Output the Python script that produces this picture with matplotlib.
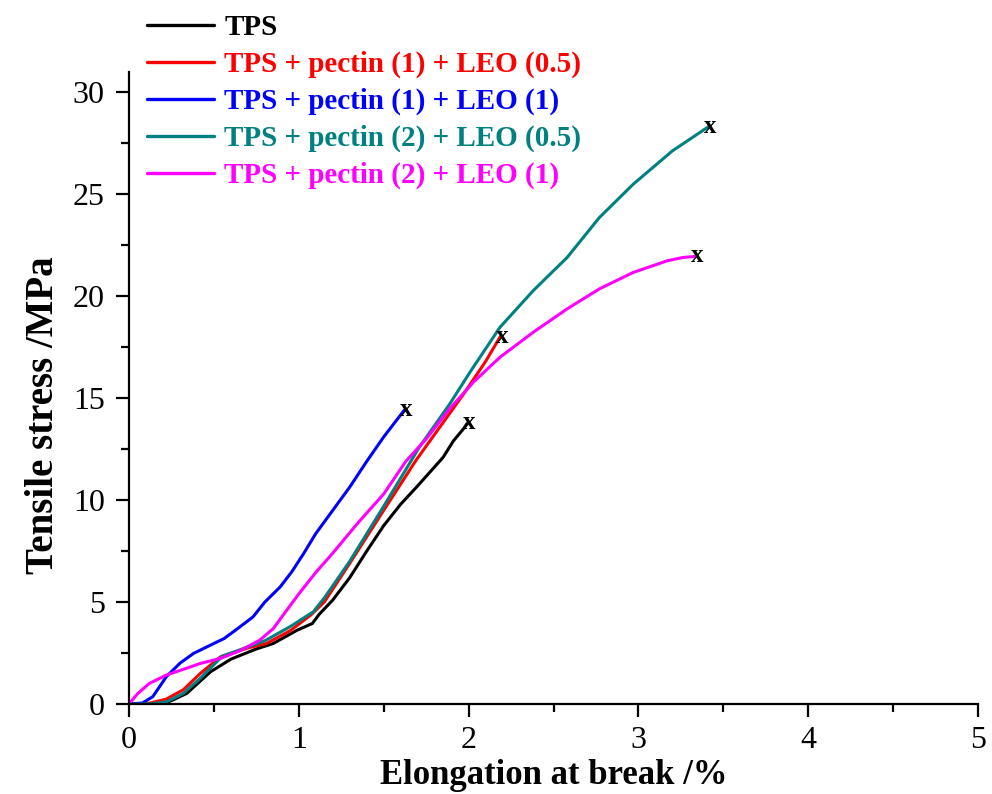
import matplotlib
matplotlib.use("Agg")
import matplotlib.pyplot as plt
from matplotlib.ticker import MultipleLocator

# ---- data ----
labels = ["TPS",
          "TPS + pectin (1) + LEO (0.5)",
          "TPS + pectin (1) + LEO (1)",
          "TPS + pectin (2) + LEO (0.5)",
          "TPS + pectin (2) + LEO (1)"]
colors = ["#000000", "#ff0000", "#0000ff", "#008080", "#ff00ff"]

tps_x = [0, 0.1, 0.22, 0.34, 0.48, 0.6, 0.75, 0.85, 0.99, 1.08, 1.12, 1.2, 1.3, 1.4, 1.5, 1.6, 1.7, 1.85, 1.91, 1.97, 1.99]
tps_y = [0, 0, 0.05, 0.52, 1.58, 2.2, 2.7, 2.97, 3.62, 3.95, 4.4, 5.1, 6.2, 7.5, 8.75, 9.8, 10.7, 12.1, 12.9, 13.5, 13.75]

p1l05_x = [0, 0.1, 0.22, 0.32, 0.42, 0.54, 0.7, 0.81, 0.95, 1.07, 1.15, 1.3, 1.5, 1.69, 1.97, 2.1, 2.185]
p1l05_y = [0, 0, 0.24, 0.7, 1.5, 2.32, 2.75, 2.97, 3.6, 4.36, 5.0, 6.9, 9.5, 11.95, 15.2, 16.8, 18.0]

p1l1_x = [0, 0.08, 0.14, 0.22, 0.3, 0.38, 0.5, 0.56, 0.64, 0.73, 0.8, 0.89, 0.96, 1.03, 1.1, 1.2, 1.3, 1.4, 1.5, 1.62]
p1l1_y = [0, 0.05, 0.36, 1.34, 2.0, 2.48, 2.97, 3.21, 3.7, 4.27, 5.0, 5.74, 6.5, 7.4, 8.36, 9.5, 10.64, 11.9, 13.1, 14.4]

p2l05_x = [0, 0.12, 0.22, 0.32, 0.42, 0.55, 0.7, 0.8, 0.95, 1.085, 1.15, 1.3, 1.5, 1.71, 1.89, 2.01, 2.185, 2.38, 2.58, 2.77, 2.97, 3.2, 3.41]
p2l05_y = [0, 0, 0.1, 0.52, 1.26, 2.35, 2.8, 3.1, 3.8, 4.52, 5.2, 7.0, 9.7, 12.6, 14.73, 16.3, 18.48, 20.27, 21.9, 23.86, 25.5, 27.13, 28.3]

p2l1_x = [0, 0.05, 0.12, 0.22, 0.32, 0.42, 0.54, 0.65, 0.77, 0.85, 0.92, 1.0, 1.1, 1.2, 1.35, 1.5, 1.63, 1.75, 1.89, 2.03, 2.185, 2.38, 2.58, 2.77, 2.97, 3.17, 3.26, 3.33]
p2l1_y = [0, 0.5, 1.01, 1.42, 1.7, 1.99, 2.24, 2.6, 3.13, 3.7, 4.5, 5.4, 6.45, 7.4, 8.9, 10.3, 11.9, 13.0, 14.5, 15.8, 17.01, 18.23, 19.38, 20.36, 21.17, 21.74, 21.9, 21.95]

series_x = [tps_x, p1l05_x, p1l1_x, p2l05_x, p2l1_x]
series_y = [tps_y, p1l05_y, p1l1_y, p2l05_y, p2l1_y]

x_label = "Elongation at break /%"
y_label = "Tensile stress /MPa"

# ---- plot ----
serif = ["Liberation Serif", "DejaVu Serif"]
plt.rcParams["font.family"] = serif

fig = plt.figure(figsize=(9.92, 7.94), dpi=100)
ax = fig.add_axes([129/992, 1 - 704/794, (978 - 129)/992, (704 - 72)/794])

handles = []
for xs, ys, c, lab in zip(series_x, series_y, colors, labels):
    h, = ax.plot(xs, ys, color=c, lw=2.2, label=lab,
                 solid_joinstyle="round", solid_capstyle="round")
    handles.append(h)
    ax.text(xs[-1] + 0.015, ys[-1] + 0.05, "x", fontsize=18, fontweight="bold",
            ha="center", va="center", color="black")

ax.set_xlim(0, 5)
ax.set_ylim(0, 31)
ax.xaxis.set_major_locator(MultipleLocator(1))
ax.xaxis.set_minor_locator(MultipleLocator(0.5))
ax.yaxis.set_major_locator(MultipleLocator(5))
ax.yaxis.set_minor_locator(MultipleLocator(2.5))
ax.tick_params(which="major", direction="out", length=9.5, width=1.6, labelsize=23)
ax.tick_params(axis="x", which="major", pad=6)
ax.tick_params(axis="y", which="major", pad=8)
ax.tick_params(which="minor", direction="out", length=5.5, width=1.6)
for s in ["top", "right"]:
    ax.spines[s].set_visible(False)
for s in ["left", "bottom"]:
    ax.spines[s].set_linewidth(1.6)

ax.set_xlabel(x_label, fontsize=25, fontweight="bold", labelpad=3)
ax.set_ylabel(y_label, fontsize=28, fontweight="bold")
ax.yaxis.set_label_coords(-0.079, 0.457)

leg = fig.legend(handles=handles, labels=labels, loc="upper left",
                 bbox_to_anchor=(147/992, 1 - 14/794), bbox_transform=fig.transFigure,
                 frameon=False, borderpad=0, borderaxespad=0,
                 handlelength=2.3, handletextpad=0.35, labelspacing=0.335,
                 prop={"family": serif, "weight": "bold", "size": 21})
for t, c in zip(leg.get_texts(), colors):
    t.set_color(c)
for h in leg.legend_handles:
    h.set_linewidth(2.4)

fig.savefig("out.png", dpi=100)
